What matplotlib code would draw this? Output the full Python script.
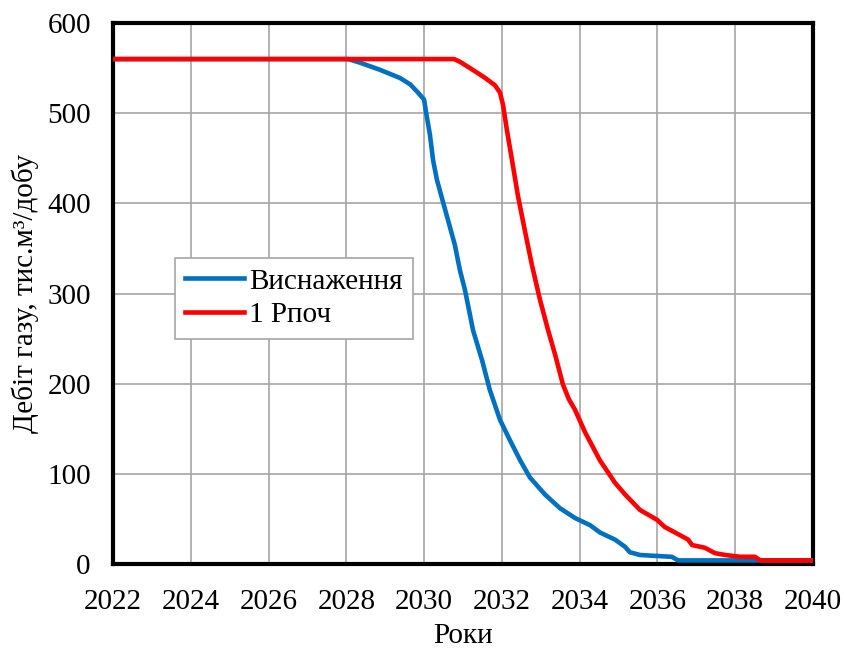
import matplotlib
matplotlib.use("Agg")
import matplotlib.pyplot as plt

plt.rcParams['font.family'] = ['Liberation Serif', 'DejaVu Serif']

# Виснаження (blue)
years_depl = [2022.0, 2028.05, 2028.35, 2028.87, 2029.38, 2029.64, 2029.84, 2030.0, 2030.05,
              2030.15, 2030.23, 2030.33, 2030.54, 2030.79, 2030.92, 2031.05, 2031.26,
              2031.49, 2031.69, 2031.95, 2032.21, 2032.47, 2032.72, 2033.11, 2033.49,
              2033.88, 2034.27, 2034.52, 2034.91, 2035.17, 2035.29, 2035.55, 2035.94,
              2036.37, 2036.53, 2040.0]
rate_depl = [560, 560, 556, 548, 539, 532, 523, 515, 501,
             476, 448, 426, 393, 354, 326, 304, 259,
             226, 193, 160, 137, 115, 96, 77, 62,
             51, 43, 35, 27, 19, 13, 10, 9,
             8, 4, 4]

# 1 Рпоч (red)
years_p1 = [2022.0, 2030.77, 2030.92, 2031.18, 2031.36, 2031.57, 2031.82, 2031.95, 2032.03,
            2032.13, 2032.26, 2032.41, 2032.59, 2032.77, 2032.98, 2033.19, 2033.37,
            2033.57, 2033.72, 2033.88, 2034.14, 2034.52, 2034.91, 2035.17, 2035.55, 2035.99,
            2036.19, 2036.58, 2036.79, 2036.89, 2037.22, 2037.48, 2037.74, 2038.12,
            2038.51, 2038.64, 2040.0]
rate_p1 = [560, 560, 557, 550, 545, 539, 531, 523, 509,
           481, 448, 409, 370, 332, 293, 259, 232,
           199, 183, 171, 146, 115, 90, 77, 60, 49,
           41, 32, 27, 21, 18, 12, 10, 8,
           8, 4, 4]

fig = plt.figure(figsize=(8.45, 6.51), dpi=100)
ax = fig.add_axes([113 / 845, 87 / 651, 700 / 845, 541 / 651])

ax.plot(years_depl, rate_depl, color='#0070C0', lw=3.3, label='Виснаження', zorder=3)
ax.plot(years_p1, rate_p1, color='#FF0000', lw=3.3, label='1 Рпоч', zorder=4)

ax.set_xlim(2022, 2040)
ax.set_ylim(0, 600)
ax.set_xticks(range(2022, 2041, 2))
ax.set_yticks(range(0, 601, 100))
ax.grid(True, color='#A6A6A6', lw=1.2)
ax.set_axisbelow(True)
ax.tick_params(axis='both', length=0, labelsize=21)
ax.tick_params(axis='x', pad=18)
ax.tick_params(axis='y', pad=16)
for s in ax.spines.values():
    s.set_linewidth(3)
    s.set_color('black')

ax.set_xlabel('Роки', fontsize=21, labelpad=6)
ax.set_ylabel('Дебіт газу, тис.м³/добу', fontsize=21, labelpad=6)

leg = ax.legend(loc='upper left', bbox_to_anchor=(0.0886, 0.5656), fontsize=21,
                frameon=True, fancybox=False, framealpha=1, edgecolor='#A6A6A6',
                handlelength=2.0, handletextpad=0.2, borderpad=0.35, labelspacing=0.25,
                borderaxespad=0)
leg.get_frame().set_linewidth(1.2)

fig.savefig('out.png', dpi=100)
